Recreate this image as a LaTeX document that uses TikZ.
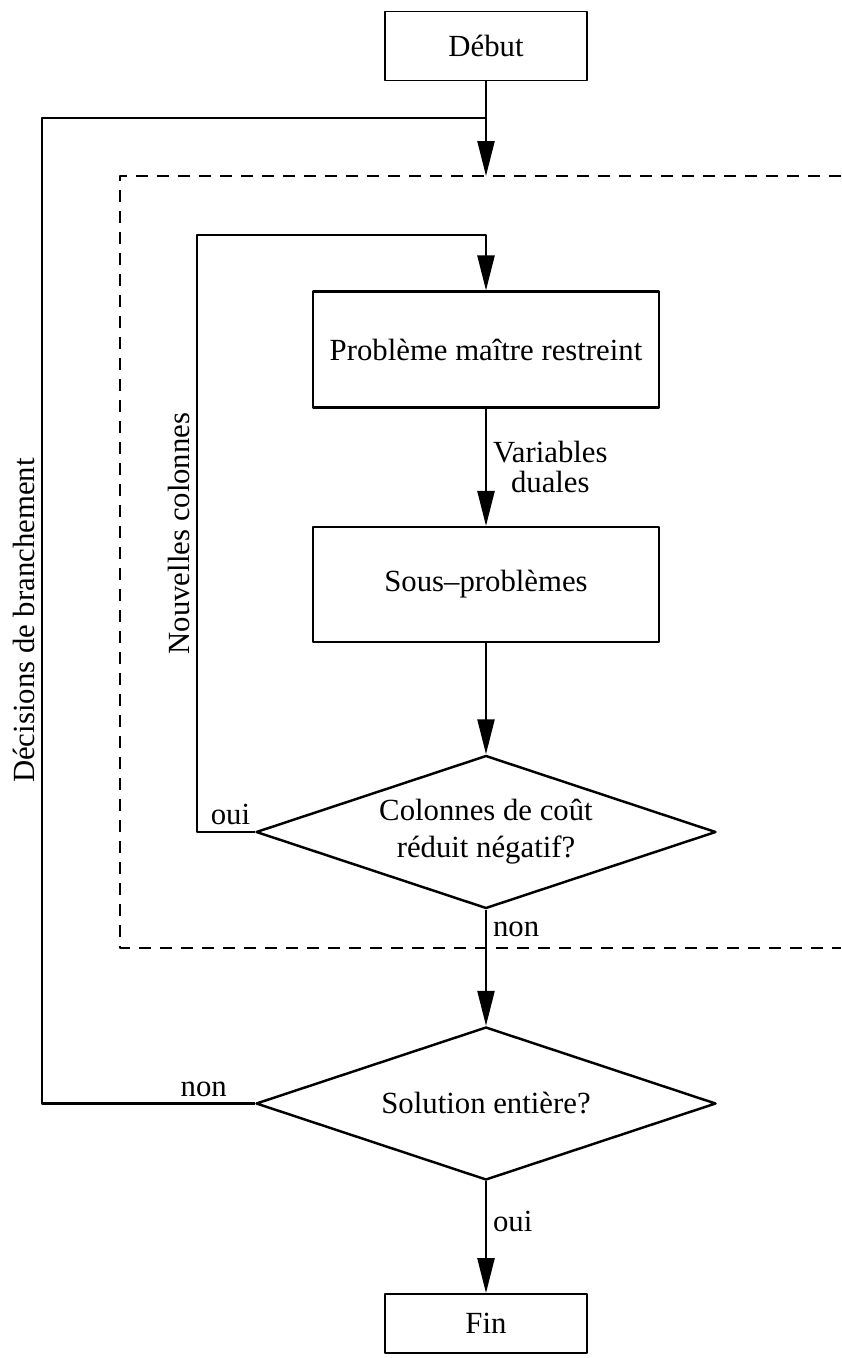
\documentclass[tikz,border=0pt]{standalone}
\usepackage{fontspec}
\setmainfont{Liberation Serif}
\usetikzlibrary{shapes.geometric,arrows.meta}
\begin{document}
\begin{tikzpicture}[>={Triangle[length=7mm,width=3.4mm]}, font=\fontsize{17.5}{21}\selectfont, line join=round,
    boite/.style={draw, line width=1.2pt, rectangle, minimum width=6.92cm, minimum height=2.32cm},
    bout/.style={draw, line width=1pt, rectangle, minimum width=4.04cm, minimum height=1.38cm},
    test/.style={draw, line width=1.4pt, diamond, aspect=3, inner sep=0pt, minimum width=9.2cm, minimum height=3.06cm, align=center},
    lien/.style={line width=1.4pt}]
    \useasboundingbox (0,0) rectangle (16.82,-27.16);
    % noeuds
    \node[bout] (debut) at (9.72,-0.92) {Début};
    \node[boite] (pmr) at (9.72,-6.99) {Problème maître restreint};
    \node[boite, minimum height=2.3cm] (sp) at (9.72,-11.69) {Sous–problèmes};
    \node[test] (cout) at (9.72,-16.64) {Colonnes de coût\\réduit négatif?};
    \node[test] (entiere) at (9.72,-22.07) {Solution entière?};
    \node[bout, minimum height=1.18cm] (fin) at (9.72,-26.47) {Fin};
    \coordinate (entree) at (9.72,-3.52);
    \coordinate (jonction) at (9.72,-2.36);
    % cadre de la generation de colonnes
    \draw[line width=1.4pt, dash pattern=on 0.24cm off 0.18cm] (16.82,-3.52) -- (2.4,-3.52) -- (2.4,-18.96) -- (16.82,-18.96);
    % fleches
    \draw[lien,->] (debut) -- (entree);
    \draw[lien,->] (pmr) -- node[right, align=center]{Variables\\[-4pt]duales} (sp);
    \draw[lien,->] (sp) -- (cout);
    \draw[lien,->] (cout) -- node[right, pos=0.17]{non} (entiere);
    \draw[lien,->] (entiere) -- node[right, pos=0.36]{oui} (fin);
    \draw[lien,->] (cout.west) -- node[above, pos=0.42]{oui} (3.94,-16.64) -- node[sloped, above]{Nouvelles colonnes} (3.94,-4.70) -- (9.72,-4.70) -- (pmr.north);
    \draw[lien] (entiere.west) -- node[above, pos=0.24]{non} (0.84,-22.07) -- node[sloped, above, pos=0.49]{Décisions de branchement} (0.84,-2.36) -- (jonction);
\end{tikzpicture}
\end{document}
